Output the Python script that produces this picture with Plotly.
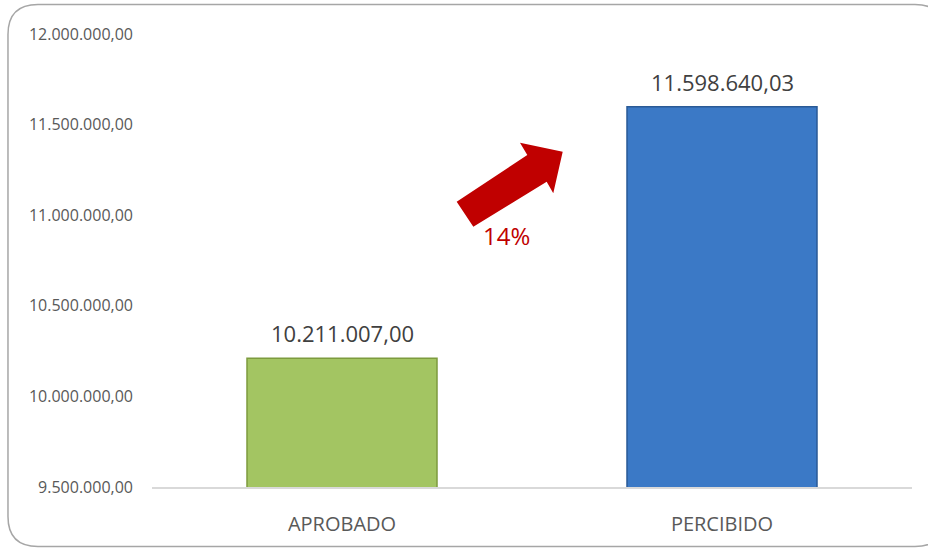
import plotly.graph_objects as go

categorias = ["APROBADO", "PERCIBIDO"]
importes = [10211007.00, 11598640.03]
colores = ["#A3C562", "#3B79C6"]
bordes = ["#7D9B3E", "#2A5A96"]
variacion = "14%"
ticks = [9500000, 10000000, 10500000, 11000000, 11500000, 12000000]

W, H = 928, 548
ML, MR, MT, MB = 152, 16, 34, 61


def px(x, y):
    # pixel position -> paper coords
    return (x - ML) / (W - ML - MR), 1 - (y - MT) / (H - MT - MB)


def path(points):
    parts = []
    for i, (x, y) in enumerate(points):
        u, v = px(x, y)
        parts.append(("M" if i == 0 else "L") + f"{u:.4f},{v:.4f}")
    return " ".join(parts) + " Z"


def rounded_frame(x0, y0, x1, y1, r):
    a = px(x0 + r, y0)
    s = f"M{a[0]:.4f},{a[1]:.4f}"
    corners = [
        ((x1 - r, y0), (x1, y0), (x1, y0 + r)),
        ((x1, y1 - r), (x1, y1), (x1 - r, y1)),
        ((x0 + r, y1), (x0, y1), (x0, y1 - r)),
        ((x0, y0 + r), (x0, y0), (x0 + r, y0)),
    ]
    for p, c, q in corners:
        p, c, q = px(*p), px(*c), px(*q)
        s += f" L{p[0]:.4f},{p[1]:.4f} Q{c[0]:.4f},{c[1]:.4f} {q[0]:.4f},{q[1]:.4f}"
    return s + " Z"


def es_num(v):
    # 1234567.8 -> 1.234.567,80
    return f"{v:,.2f}".replace(",", "X").replace(".", ",").replace("X", ".")


fig = go.Figure(
    go.Bar(
        x=categorias,
        y=importes,
        width=0.5,
        marker=dict(color=colores, line=dict(color=bordes, width=1.5)),
        hovertemplate="%{x}: %{y:,.2f}<extra></extra>",
        cliponaxis=False,
    )
)

# etiquetas de valor encima de cada barra
for cat, val in zip(categorias, importes):
    fig.add_annotation(x=cat, y=val, text=es_num(val), showarrow=False, yshift=25,
                       font=dict(size=22, color="#404040"))

flecha = [(456.7, 201.7), (527.3, 155), (520, 142.7), (562.7, 151.7),
          (553.3, 193.3), (546.7, 181.7), (473.3, 226.7)]

fig.add_shape(type="path", xref="paper", yref="paper", path=path(flecha),
              fillcolor="#C00000", line=dict(width=0))
fig.add_shape(type="path", xref="paper", yref="paper",
              path=rounded_frame(8, 4.5, 945, 546.5, 30),
              line=dict(color="#A6A6A6", width=1.5), fillcolor="rgba(0,0,0,0)")

tx, ty = px(506, 235)
fig.add_annotation(x=tx, y=ty, xref="paper", yref="paper", text=variacion, showarrow=False,
                   font=dict(size=24, color="#C00000"))

fig.update_layout(
    width=W,
    height=H,
    margin=dict(l=ML, r=MR, t=MT, b=MB),
    plot_bgcolor="white",
    paper_bgcolor="white",
    separators=",.",
    font=dict(family="Open Sans, Noto Sans, sans-serif", color="#595959"),
    showlegend=False,
)
fig.update_xaxes(
    showline=True, linecolor="#D9D9D9", linewidth=2,
    tickfont=dict(size=20, color="#595959"), ticks="", ticklabelstandoff=18,
)
fig.update_yaxes(
    range=[9500000, 12000000],
    tickvals=ticks, tickformat=",.2f",
    showgrid=False, zeroline=False, showline=False,
    tickfont=dict(size=16, color="#595959"), ticklabelstandoff=18,
)

fig.write_html("out.html", config={"displayModeBar": False},
               post_script="document.body.style.margin='0';")
